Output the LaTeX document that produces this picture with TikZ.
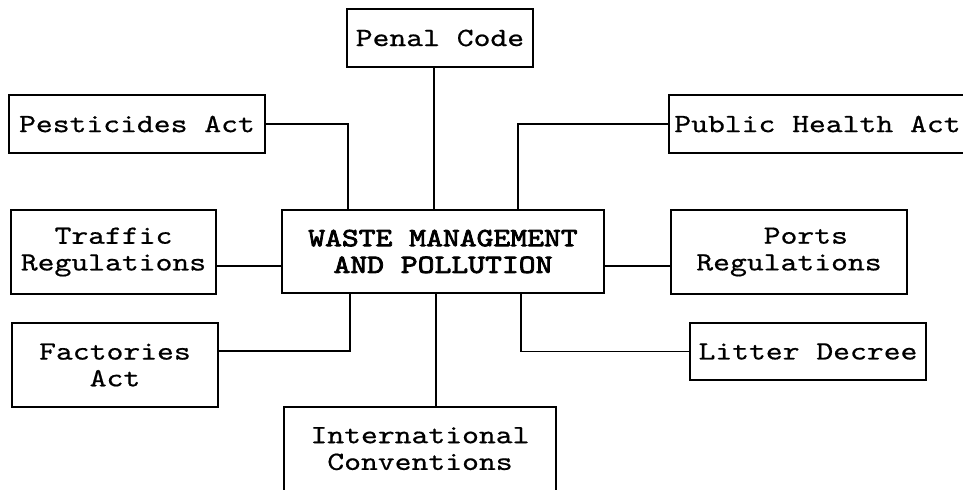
\documentclass[tikz,border=0pt]{standalone}
\usepackage{fontspec}
\setmonofont{lmmono10-regular}[Extension=.otf, FakeStretch=1.22, FakeBold=0.6]
\newfontfamily\wmfont{lmmono10-regular}[Extension=.otf, FakeStretch=1.22, FakeBold=3]
\usetikzlibrary{calc}

\begin{document}
\begin{tikzpicture}[x=0.025cm, y=-0.025cm, line width=1.1pt,
    box/.style={draw, inner sep=0pt, align=center,
      font=\ttfamily\fontsize{18.7}{19}\selectfont}]
  \fill [white] (0,0) rectangle (963,489);
  \useasboundingbox (0,0) rectangle (963,489);
  \clip (0,0) rectangle (963,489);

  % the boxes
  \node [box, minimum width=186*0.025cm, minimum height=58*0.025cm] (pc) at (440,38) {Penal Code};
  \node [box, minimum width=256*0.025cm, minimum height=58*0.025cm] (pa) at (137,124) {Pesticides Act};
  \node [box, minimum width=297*0.025cm, minimum height=58*0.025cm] (ph) at (817.5,124) {Public Health Act};
  \node [box, minimum width=205*0.025cm, minimum height=84*0.025cm] (tr) at (113.5,252) {Traffic\\Regulations};
  \node [box, minimum width=322*0.025cm, minimum height=83*0.025cm, font=\wmfont\fontsize{18.7}{19}\selectfont] (wm) at (443,251.5) {WASTE MANAGEMENT\\AND POLLUTION};
  \node [box, align=left, minimum width=236*0.025cm, minimum height=84*0.025cm] (pr) at (789,252) {\hspace*{4\fontcharwd\font`\ }Ports\\Regulations};
  \node [box, minimum width=206*0.025cm, minimum height=84*0.025cm] (fa) at (115,365) {Factories\\Act};
  \node [box, minimum width=236*0.025cm, minimum height=57*0.025cm] (ld) at (808,351.5) {Litter Decree};
  \node [box, minimum width=272*0.025cm, minimum height=95*0.025cm, text depth=0.3cm] (ic) at (420,454.5) {International\\Conventions};

  % the links
  \coordinate (wb) at ($(wm.south)+(-7,0)$);
  \draw ([xshift=-0.15cm]pc.south) -- ([xshift=-0.15cm]pc.south |- wm.north);
  \draw (pa.east) -| ($(wm.north west)+(67,0)$);
  \draw (ph.west) -| ($(wm.north east)+(-87,0)$);
  \draw ([yshift=-0.35cm]tr.east) -- ([yshift=-0.35cm]tr.east -| wm.west);
  \draw ([yshift=-0.35cm]pr.west -| wm.east) -- ([yshift=-0.35cm]pr.west);
  \draw ([yshift=0.35cm]fa.east) -| ($(wm.south west)+(69,0)$);
  \draw (ld.west) -| ($(wm.south east)+(-84,0)$);
  \draw (wb) -- (wb |- ic.north);
\end{tikzpicture}
\end{document}
